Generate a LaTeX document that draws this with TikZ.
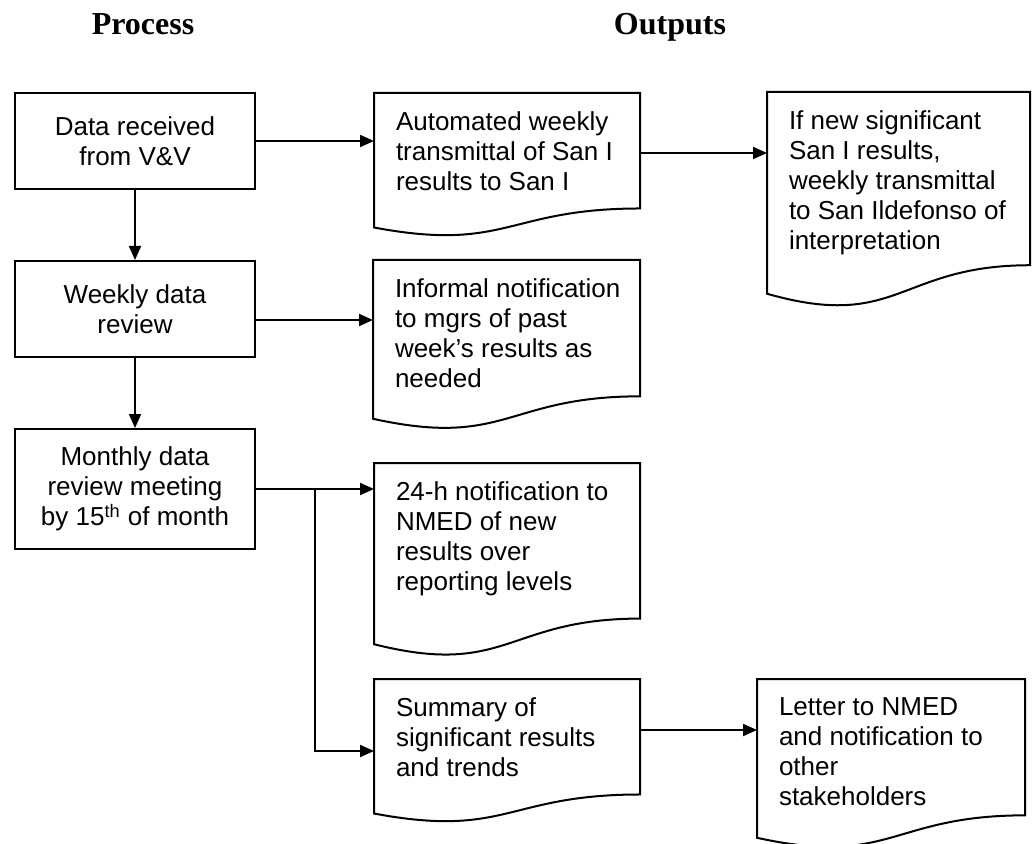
\documentclass[tikz,border=0pt]{standalone}
\usepackage{fontspec}
\setmainfont{Liberation Sans}
\newfontfamily\headfont{Liberation Serif}
\usetikzlibrary{arrows.meta,calc}

\begin{document}
\begin{tikzpicture}[x=0.5pt,y=-0.5pt,line width=1pt,font=\fontsize{13}{15}\selectfont]
	\useasboundingbox (0,0) rectangle (1032,844);

	\tikzstyle{head}=[anchor=base,font=\headfont\bfseries\fontsize{16}{19}\selectfont]
	\tikzstyle{procbox}=[draw,anchor=north west,minimum width=120pt,align=center,inner sep=0pt]
	\tikzstyle{doctext}=[anchor=north west,align=left,inner sep=0pt,xshift=10.5pt,yshift=-9pt]
	\tikzstyle{docbox}=[anchor=north west,inner sep=0pt,minimum width=132pt,
		append after command={\pgfextra{\let\thisdoc\tikzlastnode
		\draw (\thisdoc.north west) -- (\thisdoc.north east)
			-- ($(\thisdoc.north east)!0.802!(\thisdoc.south east)$)
			.. controls ($(\thisdoc.north)!0.802!(\thisdoc.south)$) and ($(\thisdoc.north)!1.1075!(\thisdoc.south)$)
			.. ($(\thisdoc.north west)!0.934!(\thisdoc.south west)$) -- cycle;}}]
	\tikzstyle{flow}=[->,>={Triangle[length=7pt,width=6pt]}]

	\node[head] (process) at (143,35) {Process};
	\node[head] (outputs) at (670,35) {Outputs};

	% process column
	\node[procbox,minimum height=48pt] (data) at (14,92) {Data received\\from V\&V};
	\node[procbox,minimum height=48pt] (weekly) at (14,260) {Weekly data\\review};
	\node[procbox,minimum height=60pt] (monthly) at (14,428) {Monthly data\\review meeting\\by 15\textsuperscript{th} of month};

	% outputs
	\node[docbox,minimum height=71pt,label={[doctext]north west:{Automated weekly\\transmittal of San I\\results to San I}}] (auto) at (374,93) {};
	\node[docbox,minimum width=132.5pt,minimum height=84pt,label={[doctext]north west:{Informal notification\\to mgrs of past\\week’s results as\\needed}}] (informal) at (373,260) {};
	\node[docbox,minimum height=96pt,label={[doctext]north west:{24-h notification to\\NMED of new\\results over\\reporting levels}}] (notice) at (374,463) {};
	\node[docbox,minimum height=71pt,label={[doctext]north west:{Summary of\\significant results\\and trends}}] (summary) at (374,679) {};
	\node[docbox,minimum width=130.5pt,minimum height=107pt,label={[doctext]north west:{If new significant\\San I results,\\weekly transmittal\\to San Ildefonso of\\interpretation}}] (ifnew) at (767,92) {};
	\node[docbox,minimum width=133pt,minimum height=84pt,label={[doctext]north west:{Letter to NMED\\and notification to\\other\\stakeholders}}] (letter) at (757,679) {};

	\coordinate (autoout) at ([yshift=6pt]auto.east);
	\coordinate (weeklyout) at ([yshift=-5.5pt]weekly.east);
	\coordinate (summaryout) at ([yshift=10.5pt]summary.east);
	\coordinate (branch) at ([xshift=29.5pt]monthly.east);

	\draw[flow] (data) -- (weekly);
	\draw[flow] (weekly) -- (monthly);
	\draw[flow] (data) -- (data -| auto.west);
	\draw[flow] (autoout) -- (autoout -| ifnew.west);
	\draw[flow] (weeklyout) -- (weeklyout -| informal.west);
	\draw[flow] (monthly) -- (monthly -| notice.west);
	\draw[flow] (branch) |- (summary);
	\draw[flow] (summaryout) -- (summaryout -| letter.west);
\end{tikzpicture}
\end{document}
